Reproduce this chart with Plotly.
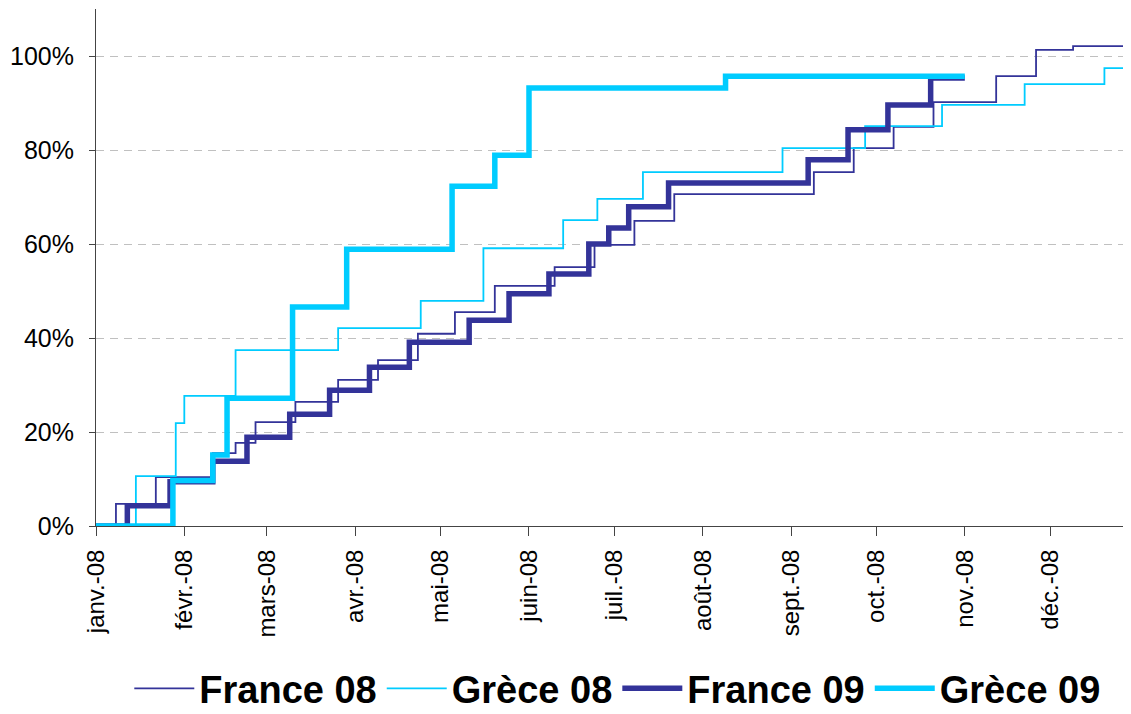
import plotly.graph_objects as go

# ---- data ----
month_ticks = ["2008-01-01", "2008-02-01", "2008-03-01", "2008-04-01", "2008-05-01", "2008-06-01",
               "2008-07-01", "2008-08-01", "2008-09-01", "2008-10-01", "2008-11-01", "2008-12-01"]
month_labels = ["janv.-08", "févr.-08", "mars-08", "avr.-08", "mai-08", "juin-08",
                "juil.-08", "août-08", "sept.-08", "oct.-08", "nov.-08", "déc.-08"]

france08_dates = ["2008-01-01", "2008-01-08", "2008-01-22", "2008-02-11", "2008-02-19", "2008-02-26",
                  "2008-03-11", "2008-03-26", "2008-04-09", "2008-04-23", "2008-05-06", "2008-05-20",
                  "2008-06-10", "2008-06-24", "2008-07-08", "2008-07-22", "2008-09-09", "2008-09-23",
                  "2008-10-07", "2008-10-21", "2008-11-12", "2008-11-26", "2008-12-09", "2008-12-31"]
france08_vals = [0.0, 0.047, 0.104, 0.155, 0.177, 0.221, 0.264, 0.311, 0.353, 0.409, 0.455, 0.511,
                 0.551, 0.598, 0.649, 0.706, 0.753, 0.804, 0.849, 0.902, 0.957, 1.013, 1.021, 1.021]

grece08_dates = ["2008-01-01", "2008-01-15", "2008-01-29", "2008-02-01", "2008-02-19", "2008-03-26",
                 "2008-04-24", "2008-05-16", "2008-06-13", "2008-06-25", "2008-07-11", "2008-08-29",
                 "2008-09-27", "2008-10-24", "2008-11-22", "2008-12-20", "2008-12-31"]
grece08_vals = [0.0, 0.106, 0.219, 0.277, 0.374, 0.421, 0.479, 0.591, 0.651, 0.696, 0.753, 0.804,
                0.851, 0.896, 0.940, 0.974, 0.974]

france09_dates = ["2008-01-01", "2008-01-12", "2008-01-27", "2008-02-11", "2008-02-23", "2008-03-09",
                  "2008-03-23", "2008-04-06", "2008-04-20", "2008-05-11", "2008-05-25", "2008-06-08",
                  "2008-06-22", "2008-06-29", "2008-07-06", "2008-07-20", "2008-09-07", "2008-09-21",
                  "2008-10-05", "2008-10-20", "2008-11-01"]
france09_vals = [0.0, 0.043, 0.094, 0.138, 0.189, 0.238, 0.289, 0.338, 0.391, 0.438, 0.494, 0.536,
                 0.600, 0.634, 0.679, 0.730, 0.779, 0.843, 0.896, 0.953, 0.953]

grece09_dates = ["2008-01-01", "2008-01-28", "2008-02-11", "2008-02-16", "2008-03-10", "2008-03-29",
                 "2008-05-05", "2008-05-20", "2008-06-01", "2008-08-09", "2008-11-01"]
grece09_vals = [0.0, 0.097, 0.151, 0.272, 0.466, 0.589, 0.723, 0.789, 0.932, 0.957, 0.957]

DARK = "#333399"
CYAN = "#00CCFF"

series = [
    ("France 08", france08_dates, france08_vals, DARK, 1.8),
    ("Grèce 08", grece08_dates, grece08_vals, CYAN, 1.8),
    ("France 09", france09_dates, france09_vals, DARK, 5.5),
    ("Grèce 09", grece09_dates, grece09_vals, CYAN, 5.5),
]

fig = go.Figure()
for name, xs, ys, color, w in series:
    fig.add_trace(go.Scatter(x=xs, y=ys, name=name, mode="lines",
                             line=dict(color=color, width=w, shape="hv")))

fig.update_layout(
    width=1123, height=706,
    paper_bgcolor="white", plot_bgcolor="white",
    margin=dict(l=88, r=0, t=1, b=188, autoexpand=False),
    font=dict(family="Liberation Sans, Arial, sans-serif", color="black"),
    showlegend=True,
    legend=dict(orientation="h", xref="container", yref="container",
                x=0.543, xanchor="center", y=0.036, yanchor="middle",
                font=dict(size=38, family="Liberation Sans, Arial, sans-serif", weight="bold"),
                itemwidth=60, tracegroupgap=0),
)
fig.update_xaxes(
    type="date", range=["2008-01-01", "2008-12-29 08:00"], automargin=False,
    tickmode="array", tickvals=month_ticks, ticktext=month_labels, tickangle=-90,
    tickfont=dict(size=24), showgrid=False, showline=True, linecolor="#444444", linewidth=1,
    ticks="outside", ticklen=9, tickcolor="#444444", ticklabelstandoff=4,
)
fig.update_yaxes(
    range=[0, 1.1], tickmode="array", tickvals=[0, 0.2, 0.4, 0.6, 0.8, 1.0], tickformat=".0%",
    automargin=False,
    tickfont=dict(size=25), showgrid=True, gridcolor="#c0c0c0", griddash="8px,6px", gridwidth=1,
    zeroline=False, showline=True, linecolor="#444444", linewidth=1,
    ticks="outside", ticklen=6, tickcolor="#444444", ticklabelstandoff=10,
)

fig.write_html("out.html")
